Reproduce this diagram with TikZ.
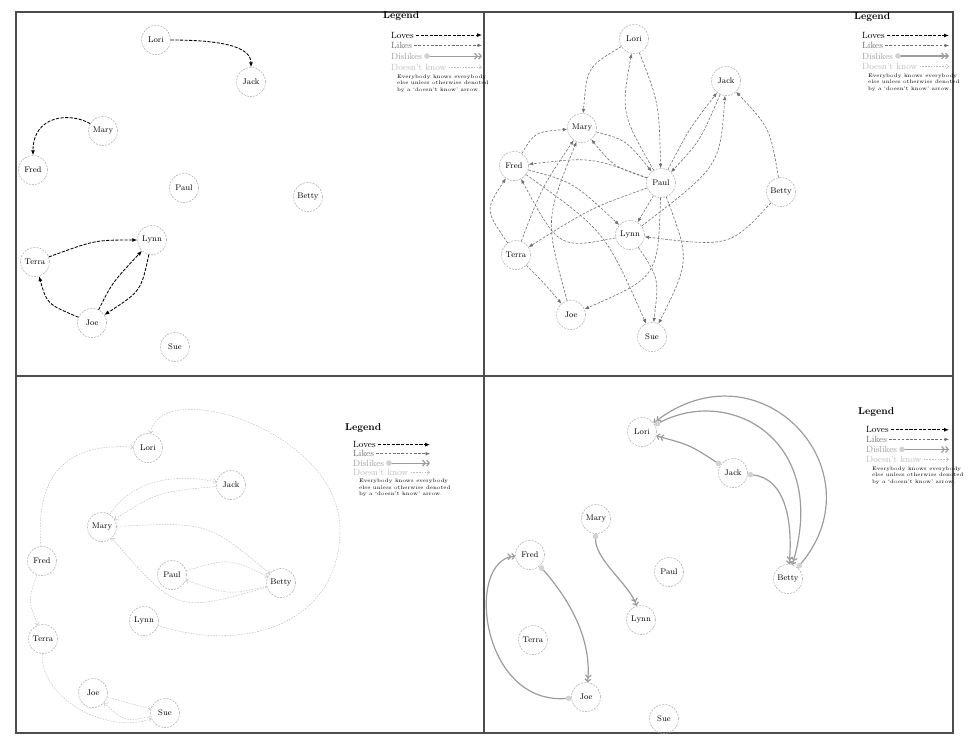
\documentclass[tikz,border=0pt]{standalone}
\usepackage{tikz}
\usetikzlibrary{arrows.meta}
\definecolor{FrameGrey}{HTML}{4D4D4D}
\definecolor{RingGrey}{HTML}{A6A6A6}
\definecolor{LikeGrey}{HTML}{6E6E6E}
\definecolor{DislikeGrey}{HTML}{9C9C9C}
\definecolor{NoKnowGrey}{HTML}{BDBDBD}

\newcommand{\drawlegend}[5]{%
  \node[legtitle] (#1title) at (#2,#3) {Legend};
  \node[legitem] (#1loves) at (#2+8,#3+1.85*#5) {Loves};
  \node[legitem,text=LikeGrey] (#1likes) at (#2+8,#3+2.85*#5) {Likes};
  \node[legitem,text=DislikeGrey] (#1dislikes) at (#2+8,#3+3.9*#5) {Dislikes};
  \node[legitem,text=NoKnowGrey] (#1noknow) at (#2+8,#3+4.95*#5) {Doesn't know};
  \coordinate (#1lovesend) at (#4,#3+1.85*#5);
  \coordinate (#1likesend) at (#4,#3+2.85*#5);
  \coordinate (#1dislikesend) at (#4,#3+3.9*#5);
  \coordinate (#1noknowend) at (#4,#3+4.95*#5);
  \draw[loves,shorten <=2pt] (#1loves) -- (#1lovesend);
  \draw[likes,shorten <=2pt] (#1likes) -- (#1likesend);
  \draw[dislikes,shorten <=2pt] (#1dislikes) -- (#1dislikesend);
  \draw[noknow,shorten <=2pt] (#1noknow) -- (#1noknowend);
  \node[legnote] (#1note) at (#2+14,#3+5.65*#5)
    {Everybody knows everybody\\else unless otherwise denoted\\by a `doesn't know' arrow.};
}

\begin{document}
\begin{tikzpicture}[
  x=1pt, y=-1pt,
  frame/.style={draw=FrameGrey,line width=2pt},
  person/.style={
    circle,
    draw=RingGrey,
    dash pattern=on 2pt off 1.2pt,
    line width=0.5pt,
    minimum size=29pt,
    inner sep=0pt,
    font=\fontsize{8.2}{9}\selectfont
  },
  loves/.style={draw=black,line width=0.85pt,dash pattern=on 3.2pt off 1.4pt,
    -{Latex[length=5pt,width=4pt]}},
  likes/.style={draw=LikeGrey,line width=0.6pt,dash pattern=on 2.6pt off 1.6pt,
    -{Latex[length=4.5pt,width=3.6pt]}},
  dislikes/.style={draw=DislikeGrey,line width=1.2pt,
    {Circle[length=5.5pt,color=DislikeGrey!45]}-{Straight Barb[length=2.6pt,width=6pt] Straight Barb[length=2.6pt,width=6pt]}},
  noknow/.style={draw=NoKnowGrey,line width=0.45pt,dash pattern=on 1.6pt off 1.2pt,
    -{Straight Barb[length=2.5pt,width=4.5pt]}},
  legtitle/.style={anchor=west,inner sep=0pt,font=\bfseries\fontsize{10}{12}\selectfont},
  legitem/.style={anchor=west,inner sep=0pt,font=\fontsize{9}{10}\selectfont},
  legnote/.style={anchor=north west,align=left,inner sep=0pt,font=\fontsize{5.2}{6.6}\selectfont}
]
\useasboundingbox (0,0) rectangle (977,742);

\draw[frame] (16,12) rectangle (953,733);
\draw[frame] (484,12) -- (484,733);
\draw[frame] (16,376) -- (953,376);

\node[person] (lori1) at (156,40) {Lori};
\node[person] (jack1) at (251,82) {Jack};
\node[person] (mary1) at (103,131) {Mary};
\node[person] (fred1) at (33,170) {Fred};
\node[person] (paul1) at (184,188) {Paul};
\node[person] (betty1) at (308,197) {Betty};
\node[person] (lynn1) at (152,240) {Lynn};
\node[person] (terra1) at (35,262) {Terra};
\node[person] (joe1) at (92,323) {Joe};
\node[person] (sue1) at (175,347) {Sue};

\node[person] (lori2) at (634,39) {Lori};
\node[person] (jack2) at (726,81) {Jack};
\node[person] (mary2) at (582,128) {Mary};
\node[person] (fred2) at (514,166) {Fred};
\node[person] (paul2) at (661,183) {Paul};
\node[person] (betty2) at (781,192) {Betty};
\node[person] (lynn2) at (630,235) {Lynn};
\node[person] (terra2) at (516,255) {Terra};
\node[person] (joe2) at (571,315) {Joe};
\node[person] (sue2) at (652,337) {Sue};

\node[person] (lori3) at (148,448) {Lori};
\node[person] (jack3) at (231,485) {Jack};
\node[person] (mary3) at (102,527) {Mary};
\node[person] (fred3) at (42,561) {Fred};
\node[person] (paul3) at (172,575) {Paul};
\node[person] (betty3) at (281,583) {Betty};
\node[person] (lynn3) at (144,621) {Lynn};
\node[person] (terra3) at (43,639) {Terra};
\node[person] (joe3) at (93,693) {Joe};
\node[person] (sue3) at (165,713) {Sue};

\node[person] (lori4) at (642,432) {Lori};
\node[person] (jack4) at (733,473) {Jack};
\node[person] (mary4) at (596,519) {Mary};
\node[person] (fred4) at (530,555) {Fred};
\node[person] (paul4) at (669,572) {Paul};
\node[person] (betty4) at (788,579) {Betty};
\node[person] (lynn4) at (641,620) {Lynn};
\node[person] (terra4) at (533,640) {Terra};
\node[person] (joe4) at (586,697) {Joe};
\node[person] (sue4) at (664,719) {Sue};

\draw[loves] (lori1) .. controls (215,40) and (251,45) .. (jack1);
\draw[loves] (mary1) .. controls (70,112) and (33,115) .. (fred1);
\draw[loves] (terra1) .. controls (95,240) .. (lynn1);
\draw[loves] (joe1) .. controls (112,283) .. (lynn1);
\draw[loves] (lynn1) .. controls (141,291) .. (joe1);
\draw[loves] (joe1) .. controls (47,304) .. (terra1);

\draw[likes] (lori2) .. controls (587,67) .. (mary2);
\draw[likes] (paul2) .. controls (621,113) .. (lori2);
\draw[likes] (lori2) .. controls (659,103) .. (paul2);
\draw[likes] (paul2) .. controls (689,129) .. (jack2);
\draw[likes] (jack2) .. controls (700,141) .. (paul2);
\draw[likes] (lynn2) .. controls (720,166) .. (jack2);
\draw[likes] (betty2) .. controls (770,128) .. (jack2);
\draw[likes] (betty2) .. controls (730,247) .. (lynn2);
\draw[likes] (mary2) .. controls (626,140) .. (paul2);
\draw[likes] (paul2) .. controls (613,166) .. (mary2);
\draw[likes] (fred2) .. controls (535,132) .. (mary2);
\draw[likes] (paul2) .. controls (591,157) .. (fred2);
\draw[likes] (terra2) .. controls (542,187) .. (mary2);
\draw[likes] (joe2) .. controls (545,220) .. (mary2);
\draw[likes] (terra2) .. controls (485,210) .. (fred2);
\draw[likes] (lynn2) .. controls (559,249) .. (fred2);
\draw[likes] (paul2) .. controls (591,208) .. (terra2);
\draw[likes] (terra2) .. controls (544,283) .. (joe2);
\draw[likes] (fred2) .. controls (573,182) .. (lynn2);
\draw[likes] (fred2) .. controls (605,231) .. (sue2);
\draw[likes] (paul2) -- (lynn2);
\draw[likes] (paul2) .. controls (658,277) .. (joe2);
\draw[likes] (paul2) .. controls (690,260) .. (sue2);
\draw[likes] (lynn2) .. controls (659,278) .. (sue2);

\coordinate (loop3) at (340,530);
\draw[noknow] (lynn3) .. controls (250,655) and (340,620) .. (loop3)
  .. controls (340,430) and (160,375) .. (lori3);
\draw[noknow] (fred3) .. controls (35,470) and (70,443) .. (lori3);
\draw[noknow] (mary3) .. controls (125,490) and (160,470) .. (jack3);
\draw[noknow] (jack3) .. controls (158,492) .. (mary3);
\draw[noknow] (mary3) .. controls (208,522) .. (betty3);
\draw[noknow] (betty3) .. controls (177,613) .. (mary3);
\draw[noknow] (paul3) .. controls (229,558) .. (betty3);
\draw[noknow] (betty3) .. controls (228,595) .. (paul3);
\draw[noknow] (fred3) .. controls (28,600) .. (terra3);
\draw[noknow] (terra3) .. controls (40,700) and (110,735) .. (sue3);
\draw[noknow] (joe3) .. controls (128,703) .. (sue3);
\draw[noknow] (sue3) .. controls (125,722) .. (joe3);

\draw[dislikes] (betty4) .. controls (880,470) and (760,340) .. (lori4);
\draw[dislikes] (lori4) .. controls (730,385) and (830,440) .. (betty4);
\draw[dislikes] (jack4) .. controls (690,445) .. (lori4);
\draw[dislikes] (jack4) .. controls (785,478) and (793,520) .. (betty4);
\draw[dislikes] (mary4) .. controls (595,560) and (630,585) .. (lynn4);
\draw[dislikes] (fred4) .. controls (570,600) and (592,640) .. (joe4);
\draw[dislikes] (joe4) .. controls (480,705) and (465,560) .. (fred4);

\drawlegend{lega}{383}{16}{482}{10.3}
\drawlegend{legb}{854}{17}{949}{10}
\drawlegend{legc}{345}{428}{430}{9}
\drawlegend{legd}{858}{412}{949}{9.6}
\end{tikzpicture}
\end{document}
